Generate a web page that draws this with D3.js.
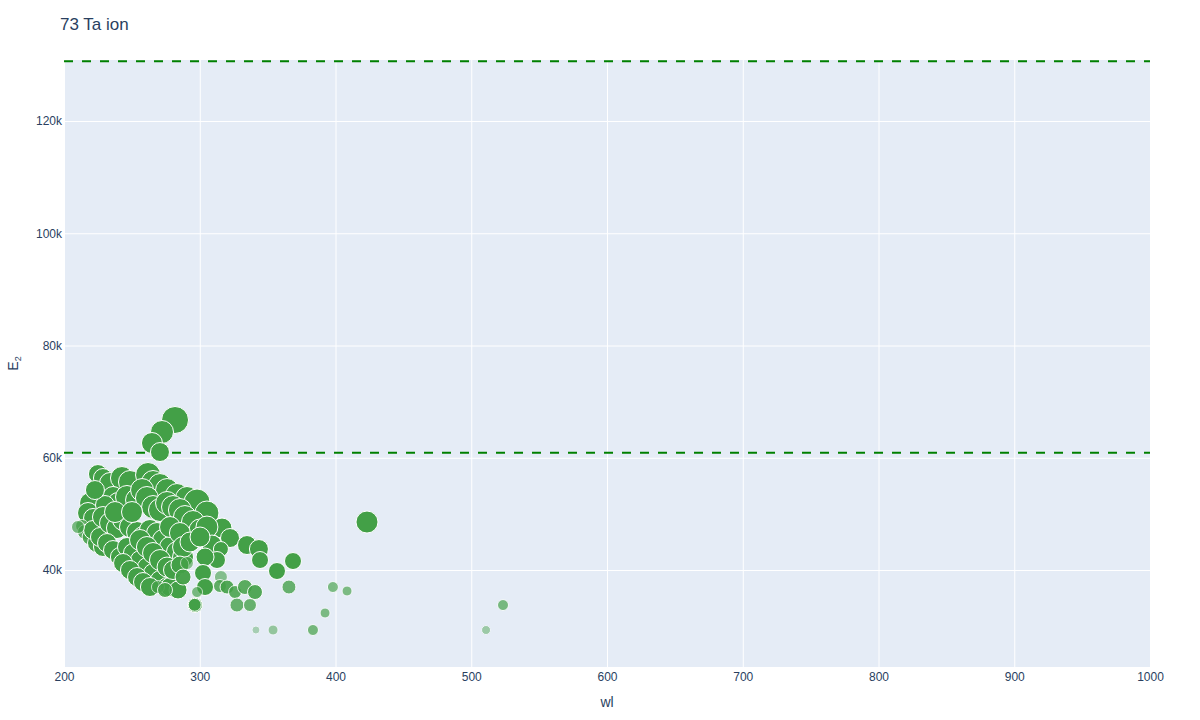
<!DOCTYPE html>
<html>
<head>
<meta charset="utf-8">
<script src="https://cdn.jsdelivr.net/npm/d3@7"></script>
<style>
  body { margin: 0; background: #fff; }
  svg text { font-family: "Liberation Sans", Arial, sans-serif; fill: #2a3f5f; }
</style>
</head>
<body>
<div id="chart"></div>
<script>
let w = 1200;
let h = 720;
let plotLeft = 64, plotRight = 1150, plotTop = 60, plotBottom = 667;

// wavelength (nm) of each line
let wl = [
  225.0, 228.7, 233.9, 242.7, 248.6, 261.9, 265.6, 270.7, 275.9, 283.2, 290.6, 298.0, 305.3, 316.4, 322.3, 334.8, 343.6, 344.4, 356.9, 368.7,
  219.2, 236.1, 239.8, 246.4, 253.8, 257.5, 261.1, 265.6, 270.7, 275.9, 280.3, 285.4, 289.1, 295.0, 300.2, 305.3, 309.0, 315.6, 312.7, 303.9,
  217.7, 221.4, 213.3, 215.5, 219.2, 224.3, 228.7, 221.4, 226.5, 230.2, 222.8, 210.3,
  228.7, 233.9, 239.0, 243.5, 248.6, 253.8, 258.2, 263.3, 268.5, 272.9, 278.1, 283.2, 287.7, 278.1, 285.4, 287.7, 292.8, 300.2, 237.6, 250.1,
  231.7, 236.1, 241.2, 246.4, 250.8, 256.0, 261.1, 265.6, 270.7, 275.9, 243.5, 248.6, 253.8, 258.2, 263.3, 278.1, 284.0,
  256.0, 261.1, 265.6, 270.7, 275.9, 280.3, 285.4, 287.7, 302.4, 303.9, 269.2, 274.4,
  296.5, 296.3, 298.0, 290.6, 315.6, 314.9, 320.1, 326.0, 333.3, 340.7, 327.4, 337.0, 365.7, 398.1, 408.5, 392.3, 383.4, 354.0, 341.4, 510.9, 523.4,
  423.2, 281.8, 272.2, 264.8, 270.7
];

// upper level energy E2 (cm-1)
let e2 = [
  57100, 56390, 55500, 56390, 55680, 56930, 55680, 55140, 54250, 53360, 52830, 52120, 50160, 47480, 45700, 44450, 43740, 41780, 39820, 41600,
  51940, 53010, 51940, 53010, 52470, 54250, 52830, 51220, 50690, 51940, 51220, 50690, 49440, 48550, 47130, 47660, 44450, 43740, 41780, 42320,
  50160, 49270, 47840, 46770, 45880, 44810, 44100, 47130, 45880, 51580, 54250, 47660,
  49440, 48370, 47480, 48910, 47660, 46770, 45880, 47130, 46590, 45350, 44100, 43210, 42320, 47660, 46590, 44100, 44990, 45880, 50330, 50330,
  44810, 43560, 42320, 44100, 43030, 41780, 40530, 39470, 38220, 36970, 41250, 40000, 38750, 37860, 36970, 36970, 36440,
  45350, 44100, 43030, 41780, 40530, 40000, 40890, 38750, 39470, 36970, 36970, 36440,
  33760, 33800, 36080, 41250, 38750, 37150, 36970, 36080, 36970, 36080, 33760, 33760, 36970, 36970, 36260, 32340, 29310, 29310, 29310, 29310, 33760,
  48550, 66730, 64590, 62630, 61020
];

// marker size (diameter, px)
let size = [
  19, 19, 21, 23, 23, 25, 23, 23, 23, 23, 23, 26, 24, 20, 19, 19, 19, 17, 17, 17,
  21, 21, 21, 23, 23, 23, 23, 23, 23, 23, 23, 23, 23, 23, 22, 22, 20, 15, 17, 18,
  21, 19, 13, 15, 16, 19, 19, 19, 19, 19, 19, 13,
  21, 21, 21, 21, 21, 21, 21, 21, 21, 21, 21, 21, 21, 21, 21, 21, 20, 20, 21, 21,
  19, 19, 19, 19, 19, 19, 19, 19, 19, 19, 19, 19, 19, 19, 19, 19, 18,
  21, 21, 21, 21, 20, 19, 18, 16, 17, 17, 13, 15,
  15, 13, 11, 13, 13, 13, 14, 13, 15, 15, 14, 13, 14, 11, 10, 10, 11, 10, 8, 9, 11,
  22, 27, 23, 21, 19
];

// marker opacity
let alpha = [
  1, 1, 1, 1, 1, 1, 1, 1, 1, 1, 1, 1, 1, 1, 1, 1, 1, 1, 1, 1,
  1, 1, 1, 1, 1, 1, 1, 1, 1, 1, 1, 1, 1, 1, 1, 1, 1, 1, 1, 1,
  1, 1, .75, .82, .88, .95, 1, 1, 1, 1, 1, .68,
  1, 1, 1, 1, 1, 1, 1, 1, 1, 1, 1, 1, 1, 1, 1, 1, 1, 1, 1, 1,
  1, 1, 1, 1, 1, 1, 1, 1, 1, 1, 1, 1, 1, 1, 1, 1, 1,
  1, 1, 1, 1, 1, 1, 1, .95, 1, 1, .68, .88,
  1, 1, .68, .6, .6, .82, .9, .85, .85, .9, .78, .78, .78, .65, .65, .65, .7, .5, .38, .45, .68,
  1, 1, 1, 1, 1
];

// dashed reference levels (cm-1)
let limits = [60891, 130660];

let xTicks = [200, 300, 400, 500, 600, 700, 800, 900, 1000];
let yTicks = [40000, 60000, 80000, 100000, 120000];

let points = wl.map(function (d, i) {
  return { wl: d, e2: e2[i], size: size[i], alpha: alpha[i] };
});

let svg = d3.select("#chart").append("svg")
  .attr("width", w)
  .attr("height", h);

let xScale = d3.scaleLinear().domain([200, 1000]).range([plotLeft, plotRight]);
let yScale = d3.scaleLinear().domain([22720, 130870]).range([plotBottom, plotTop]);

svg.append("rect")
  .attr("x", plotLeft)
  .attr("y", plotTop)
  .attr("width", plotRight - plotLeft)
  .attr("height", plotBottom - plotTop)
  .attr("fill", "#E5ECF6");

// grid
let xAxis = d3.axisBottom(xScale).tickValues(xTicks).tickSize(-(plotBottom - plotTop)).tickPadding(5)
  .tickFormat(d3.format("d"));
let xAxisGroup = svg.append("g")
  .attr("transform", "translate(0," + plotBottom + ")")
  .call(xAxis);
xAxisGroup.select(".domain").remove();
xAxisGroup.selectAll("line").attr("stroke", "#fff").attr("stroke-width", 1);
xAxisGroup.selectAll("text").attr("font-size", 12).attr("fill", "#2a3f5f");

let yAxis = d3.axisLeft(yScale).tickValues(yTicks).tickSize(-(plotRight - plotLeft)).tickPadding(2)
  .tickFormat(function (d) { return (d / 1000) + "k"; });
let yAxisGroup = svg.append("g")
  .attr("transform", "translate(" + plotLeft + ",0)")
  .call(yAxis);
yAxisGroup.select(".domain").remove();
yAxisGroup.selectAll("line").attr("stroke", "#fff").attr("stroke-width", 1);
yAxisGroup.selectAll("text").attr("font-size", 12).attr("fill", "#2a3f5f");

// reference lines
svg.selectAll(".limit").data(limits).enter()
  .append("line")
  .attr("class", "limit")
  .attr("x1", plotLeft)
  .attr("x2", plotRight)
  .attr("y1", function (d) { return yScale(d); })
  .attr("y2", function (d) { return yScale(d); })
  .attr("stroke", "green")
  .attr("stroke-width", 2)
  .attr("stroke-dasharray", "9,9");

// points
svg.append("g").selectAll("circle").data(points).enter()
  .append("circle")
  .attr("cx", function (d) { return xScale(d.wl); })
  .attr("cy", function (d) { return yScale(d.e2); })
  .attr("r", function (d) { return d.size / 2; })
  .attr("fill", "rgb(67,160,71)")
  .attr("stroke", "#fff")
  .attr("stroke-width", 1)
  .attr("opacity", function (d) { return d.alpha; });

// titles
svg.append("text")
  .attr("x", 60)
  .attr("y", 30)
  .attr("font-size", 17)
  .text("73 Ta ion");

svg.append("text")
  .attr("x", (plotLeft + plotRight) / 2)
  .attr("y", 707)
  .attr("text-anchor", "middle")
  .attr("font-size", 14)
  .text("wl");

let yTitle = svg.append("text")
  .attr("transform", "translate(18," + ((plotTop + plotBottom) / 2) + ") rotate(-90)")
  .attr("text-anchor", "middle")
  .attr("font-size", 14);
yTitle.append("tspan").text("E");
yTitle.append("tspan").attr("font-size", 9).attr("dy", 3).text("2");
</script>
</body>
</html>
